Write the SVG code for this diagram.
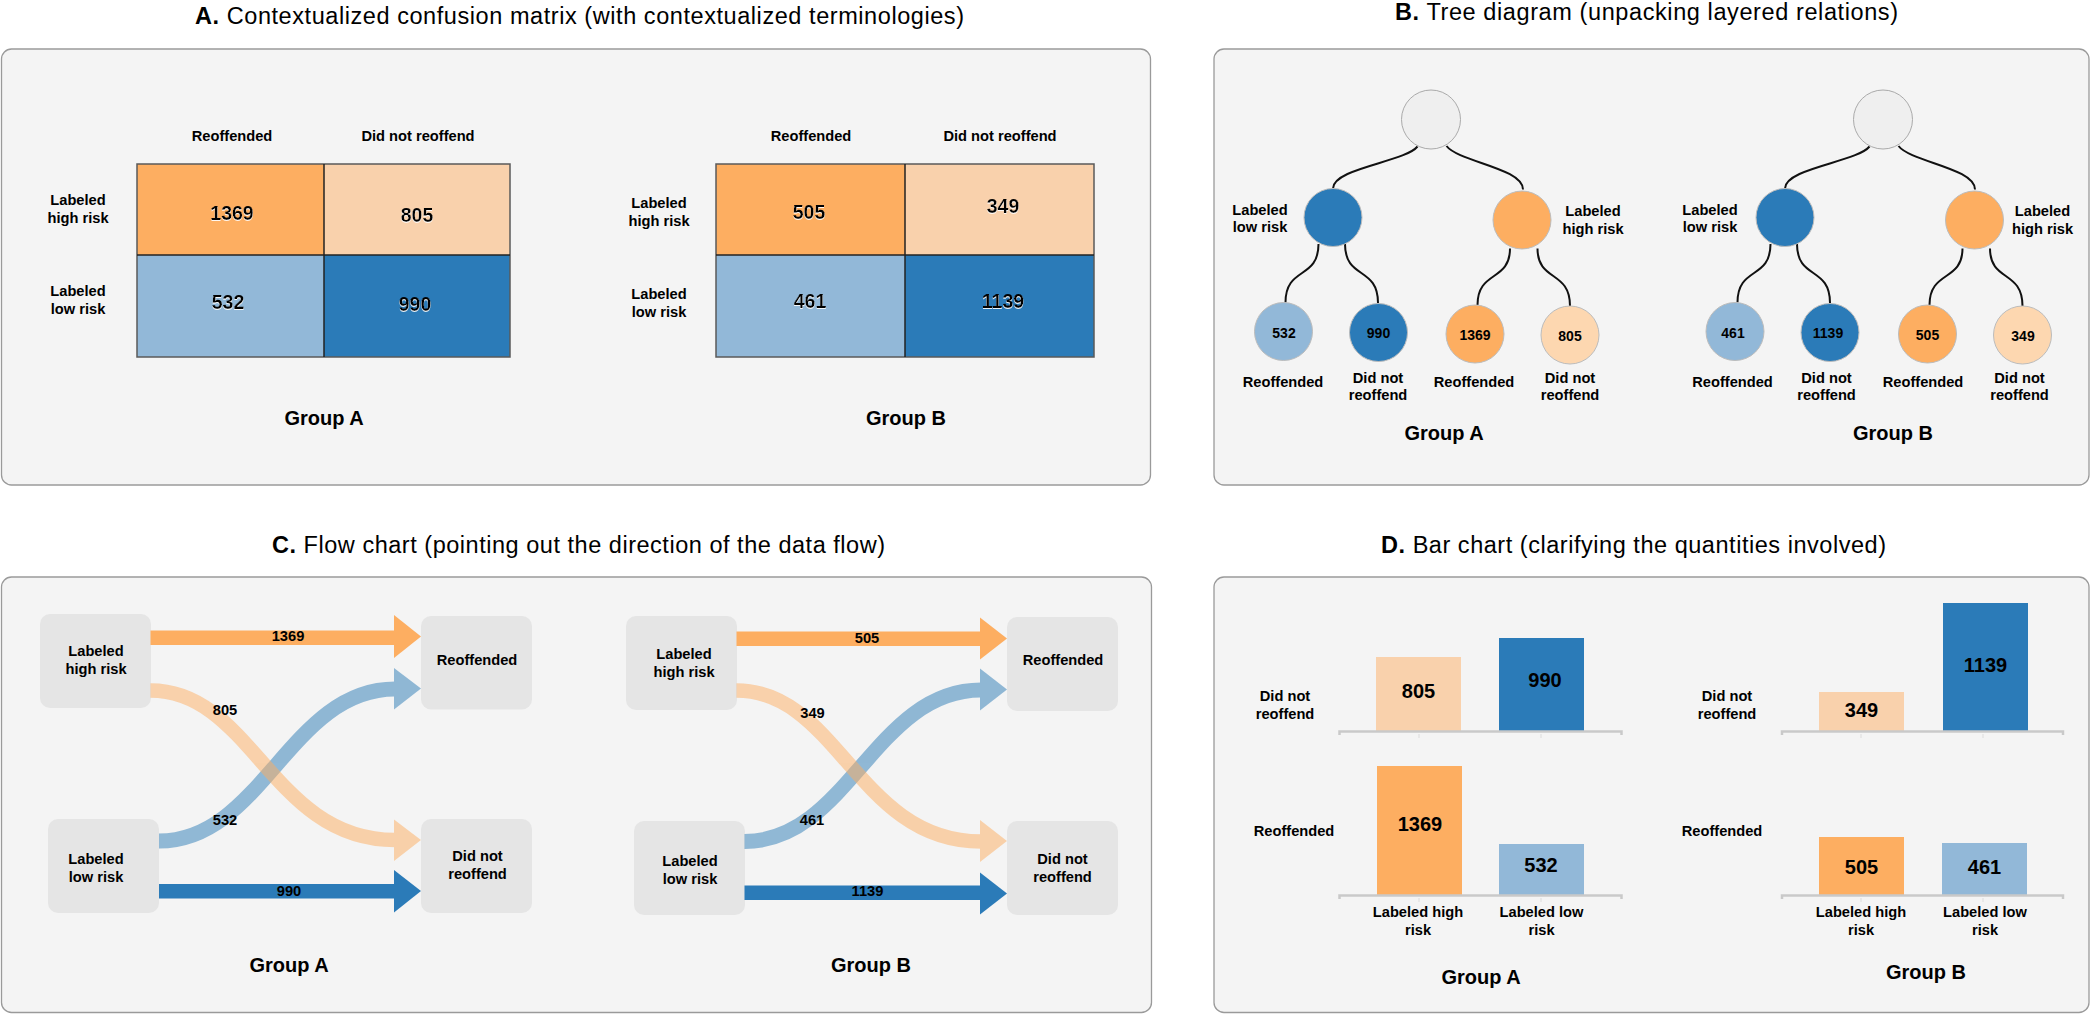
<svg xmlns="http://www.w3.org/2000/svg" width="2092" height="1014" viewBox="0 0 2092 1014">
<style>
text { font-family: "Liberation Sans", Arial, Helvetica, sans-serif; fill: #000; }
.title { font-size: 23.5px; }
.lb { font-size: 14.67px; font-weight: bold; text-anchor: middle; }
.n19 { font-size: 19.5px; font-weight: bold; text-anchor: middle; }
.n20 { font-size: 20px; font-weight: bold; text-anchor: middle; }
.n14 { font-size: 14px; font-weight: bold; text-anchor: middle; }
.grp { font-size: 20px; font-weight: bold; text-anchor: middle; }
.panel { fill: #f4f4f4; stroke: #9a9a9a; stroke-width: 1.3; }
.box { fill: #e5e5e5; }
.edge { fill: none; stroke: #111; stroke-width: 2; }
.axis { fill: none; stroke: #c9c9c9; stroke-width: 2.5; }
.tick { stroke: #dcdcdc; stroke-width: 1; }
.or { fill: #fdae61; }
.lor { fill: #f9d1ac; }
.bl { fill: #2b7bb8; }
.lbl { fill: #92b8d8; }
.mborder { fill: none; stroke: #5a5a5a; stroke-width: 1.5; }
.mline { stroke: #222; stroke-width: 1.5; }
.root { fill: #efefef; stroke: #aaa; stroke-width: 1; }
.nd { stroke: #bcbcbc; stroke-width: 1; }
</style>
<defs>
<filter id="glow" x="-20%" y="-20%" width="140%" height="160%">
<feDropShadow dx="0" dy="1" stdDeviation="0.7" flood-color="#ffffff" flood-opacity="0.9"/>
</filter>
</defs>

<!-- Panel frames -->
<rect class="panel" x="1.5" y="49" width="1149" height="436" rx="10"/>
<rect class="panel" x="1214" y="49" width="875" height="436" rx="10"/>
<rect class="panel" x="1.5" y="577" width="1150" height="435.5" rx="10"/>
<rect class="panel" x="1214" y="577" width="875" height="435.5" rx="10"/>

<!-- Titles -->
<text class="title" x="195" y="24" textLength="769" lengthAdjust="spacing"><tspan font-weight="bold">A.</tspan> Contextualized confusion matrix (with contextualized terminologies)</text>
<text class="title" x="1395" y="20" textLength="503" lengthAdjust="spacing"><tspan font-weight="bold">B.</tspan> Tree diagram (unpacking layered relations)</text>
<text class="title" x="272" y="553" textLength="613" lengthAdjust="spacing"><tspan font-weight="bold">C.</tspan> Flow chart (pointing out the direction of the data flow)</text>
<text class="title" x="1381" y="553" textLength="505" lengthAdjust="spacing"><tspan font-weight="bold">D.</tspan> Bar chart (clarifying the quantities involved)</text>

<!-- ===== A. Confusion matrices ===== -->
<g id="matrixA">
<text class="lb" x="232" y="141">Reoffended</text>
<text class="lb" x="418" y="141">Did not reoffend</text>
<text class="lb" x="78" y="205">Labeled</text>
<text class="lb" x="78" y="223">high risk</text>
<text class="lb" x="78" y="296">Labeled</text>
<text class="lb" x="78" y="314">low risk</text>
<g id="mA-tp"><rect class="or" x="137" y="164" width="187" height="91"/><text class="n19" x="232" y="219.5" filter="url(#glow)">1369</text></g>
<g id="mA-fp"><rect class="lor" x="324" y="164" width="186" height="91"/><text class="n19" x="417" y="222" filter="url(#glow)">805</text></g>
<g id="mA-fn"><rect class="lbl" x="137" y="255" width="187" height="102"/><text class="n19" x="228" y="308.5" filter="url(#glow)">532</text></g>
<g id="mA-tn"><rect class="bl" x="324" y="255" width="186" height="102"/><text class="n19" x="415" y="311" filter="url(#glow)">990</text></g>
<rect class="mborder" x="137" y="164" width="373" height="193"/>
<line class="mline" x1="324" y1="164" x2="324" y2="357"/>
<line class="mline" x1="137" y1="255" x2="510" y2="255"/>
<text class="grp" x="324" y="425">Group A</text>
</g>

<g id="matrixB">
<text class="lb" x="811" y="141">Reoffended</text>
<text class="lb" x="1000" y="141">Did not reoffend</text>
<text class="lb" x="659" y="208">Labeled</text>
<text class="lb" x="659" y="226">high risk</text>
<text class="lb" x="659" y="299">Labeled</text>
<text class="lb" x="659" y="317">low risk</text>
<g id="mB-tp"><rect class="or" x="716" y="164" width="189" height="91"/><text class="n19" x="809" y="218.5" filter="url(#glow)">505</text></g>
<g id="mB-fp"><rect class="lor" x="905" y="164" width="189" height="91"/><text class="n19" x="1003" y="213" filter="url(#glow)">349</text></g>
<g id="mB-fn"><rect class="lbl" x="716" y="255" width="189" height="102"/><text class="n19" x="810" y="308" filter="url(#glow)">461</text></g>
<g id="mB-tn"><rect class="bl" x="905" y="255" width="189" height="102"/><text class="n19" x="1003" y="308" filter="url(#glow)">1139</text></g>
<rect class="mborder" x="716" y="164" width="378" height="193"/>
<line class="mline" x1="905" y1="164" x2="905" y2="357"/>
<line class="mline" x1="716" y1="255" x2="1094" y2="255"/>
<text class="grp" x="906" y="425">Group B</text>
</g>

<!-- ===== B. Tree diagrams ===== -->
<g id="tree-connectors">
<path class="edge" d="M1417.5,146.5 C1405,162 1333,168 1333,188.5"/>
<path class="edge" d="M1446.5,146 C1459,162 1523,168 1523,189.5"/>
<path class="edge" d="M1318.5,244 C1318.5,280 1285.5,266 1285.5,302.5"/>
<path class="edge" d="M1345,244 C1345,280 1378,266 1378,303"/>
<path class="edge" d="M1510,248.5 C1510,282 1477.5,270 1477.5,305"/>
<path class="edge" d="M1537.5,248.5 C1537.5,282 1570,270 1570,306"/>

<path class="edge" d="M1869.5,146.5 C1857,162 1785,168 1785,188.5"/>
<path class="edge" d="M1898.5,146 C1911,162 1975,168 1975,189.5"/>
<path class="edge" d="M1770.5,244 C1770.5,280 1737.5,266 1737.5,302.5"/>
<path class="edge" d="M1797,244 C1797,280 1830,266 1830,303"/>
<path class="edge" d="M1962.5,248.5 C1962.5,282 1929.5,270 1929.5,305"/>
<path class="edge" d="M1990,248.5 C1990,282 2022.5,270 2022.5,306"/>
</g>

<g id="treeA">
<g id="tA-root"><circle class="root" cx="1431" cy="119.5" r="29.5"/></g>
<g id="tA-low"><circle class="bl nd" cx="1333" cy="217.5" r="29"/>
<text class="lb" x="1260" y="214.5">Labeled</text><text class="lb" x="1260" y="232">low risk</text></g>
<g id="tA-high"><circle class="or nd" cx="1522" cy="220" r="29"/>
<text class="lb" x="1593" y="215.5">Labeled</text><text class="lb" x="1593" y="233.5">high risk</text></g>
<g id="tA-532"><circle class="lbl nd" cx="1283.5" cy="331.5" r="29"/><text class="n14" x="1284" y="337.5">532</text>
<text class="lb" x="1283" y="386.5">Reoffended</text></g>
<g id="tA-990"><circle class="bl nd" cx="1378.5" cy="332.5" r="29"/><text class="n14" x="1378.5" y="338">990</text>
<text class="lb" x="1378" y="383">Did not</text><text class="lb" x="1378" y="399.5">reoffend</text></g>
<g id="tA-1369"><circle class="or nd" cx="1475" cy="334" r="29"/><text class="n14" x="1475" y="339.5">1369</text>
<text class="lb" x="1474" y="387">Reoffended</text></g>
<g id="tA-805"><circle class="nd" fill="#fdd7b0" cx="1570" cy="335" r="29"/><text class="n14" x="1570" y="340.5">805</text>
<text class="lb" x="1570" y="383">Did not</text><text class="lb" x="1570" y="399.5">reoffend</text></g>
<text class="grp" x="1444" y="440">Group A</text>
</g>

<g id="treeB">
<g id="tB-root"><circle class="root" cx="1883" cy="119.5" r="29.5"/></g>
<g id="tB-low"><circle class="bl nd" cx="1785" cy="217.5" r="29"/>
<text class="lb" x="1710" y="214.5">Labeled</text><text class="lb" x="1710" y="232">low risk</text></g>
<g id="tB-high"><circle class="or nd" cx="1974.5" cy="220" r="29"/>
<text class="lb" x="2042.5" y="215.5">Labeled</text><text class="lb" x="2042.5" y="233.5">high risk</text></g>
<g id="tB-461"><circle class="lbl nd" cx="1735" cy="331.5" r="29"/><text class="n14" x="1733" y="337.5">461</text>
<text class="lb" x="1732.5" y="386.5">Reoffended</text></g>
<g id="tB-1139"><circle class="bl nd" cx="1830" cy="332.5" r="29"/><text class="n14" x="1828" y="338">1139</text>
<text class="lb" x="1826.5" y="383">Did not</text><text class="lb" x="1826.5" y="399.5">reoffend</text></g>
<g id="tB-505"><circle class="or nd" cx="1927.5" cy="334" r="29"/><text class="n14" x="1927.5" y="339.5">505</text>
<text class="lb" x="1923" y="387">Reoffended</text></g>
<g id="tB-349"><circle class="nd" fill="#fdd7b0" cx="2022.5" cy="335" r="29"/><text class="n14" x="2023" y="340.5">349</text>
<text class="lb" x="2019.5" y="383">Did not</text><text class="lb" x="2019.5" y="399.5">reoffend</text></g>
<text class="grp" x="1893" y="440">Group B</text>
</g>

<!-- ===== C. Flow charts ===== -->
<g id="flowA">
<g id="fA-high"><rect class="box" x="40" y="614" width="111" height="94" rx="10"/>
<text class="lb" x="96" y="656">Labeled</text><text class="lb" x="96" y="674">high risk</text></g>
<g id="fA-reo"><rect class="box" x="421" y="616" width="111" height="93.5" rx="10"/>
<text class="lb" x="477" y="665">Reoffended</text></g>
<g id="fA-low"><rect class="box" x="48" y="819" width="111" height="94" rx="10"/>
<text class="lb" x="96" y="864">Labeled</text><text class="lb" x="96" y="882">low risk</text></g>
<g id="fA-not"><rect class="box" x="421" y="819" width="111" height="94" rx="10"/>
<text class="lb" x="477.5" y="861">Did not</text><text class="lb" x="477.5" y="879">reoffend</text></g>
</g>

<g id="flowB">
<g id="fB-high"><rect class="box" x="626" y="616" width="111" height="94" rx="10"/>
<text class="lb" x="684" y="659">Labeled</text><text class="lb" x="684" y="677">high risk</text></g>
<g id="fB-reo"><rect class="box" x="1007" y="617" width="111" height="94" rx="10"/>
<text class="lb" x="1063" y="665">Reoffended</text></g>
<g id="fB-low"><rect class="box" x="634" y="821" width="111" height="94" rx="10"/>
<text class="lb" x="690" y="866">Labeled</text><text class="lb" x="690" y="884">low risk</text></g>
<g id="fB-not"><rect class="box" x="1007" y="821" width="111" height="94" rx="10"/>
<text class="lb" x="1062.5" y="864">Did not</text><text class="lb" x="1062.5" y="882">reoffend</text></g>
</g>

<g id="flow-connectors">
<!-- Group A -->
<g opacity="0.5">
<path d="M159,841 C262,841 290,689 395,689" fill="none" stroke="#2c7bb6" stroke-width="15"/>
<polygon points="394,668 421,688.5 394,709.5" fill="#2c7bb6"/>
</g>
<g opacity="0.5">
<path d="M150.5,690.5 C252,690.5 272,840 395,840" fill="none" stroke="#fdae61" stroke-width="14.5"/>
<polygon points="394,819.5 421,840 394,861" fill="#fdae61"/>
</g>
<rect class="or" x="150.5" y="630.5" width="244.5" height="14.5"/>
<polygon class="or" points="394,615 421,636.5 394,658"/>
<rect class="bl" x="159" y="884" width="236" height="14.5"/>
<polygon class="bl" points="394,870 421,891 394,912.5"/>
<text class="lb" x="288" y="641">1369</text>
<text class="lb" x="289" y="895.5">990</text>
<text class="lb" x="225" y="714.5">805</text>
<text class="lb" x="225" y="824.5">532</text>
<!-- Group B -->
<g opacity="0.5">
<path d="M744.5,841.5 C848,841.5 875,690 981,690" fill="none" stroke="#2c7bb6" stroke-width="15"/>
<polygon points="980,668.5 1007,689.5 980,710.5" fill="#2c7bb6"/>
</g>
<g opacity="0.5">
<path d="M736.5,690.5 C838,690.5 858,841.5 981,841.5" fill="none" stroke="#fdae61" stroke-width="14.5"/>
<polygon points="980,820 1007,841 980,862" fill="#fdae61"/>
</g>
<rect class="or" x="736.5" y="631.5" width="244.5" height="14.5"/>
<polygon class="or" points="980,617.5 1007,638.5 980,659.5"/>
<rect class="bl" x="744.5" y="885.5" width="236.5" height="14.5"/>
<polygon class="bl" points="980,872.5 1007,893.5 980,914.5"/>
<text class="lb" x="867" y="643">505</text>
<text class="lb" x="867.5" y="896">1139</text>
<text class="lb" x="812.5" y="718">349</text>
<text class="lb" x="812" y="824.5">461</text>
</g>
<text class="grp" x="289" y="972">Group A</text>
<text class="grp" x="871" y="972">Group B</text>

<!-- ===== D. Bar charts ===== -->
<g id="barsA">
<text class="lb" x="1285" y="701">Did not</text>
<text class="lb" x="1285" y="719">reoffend</text>
<text class="lb" x="1294" y="836">Reoffended</text>
<g id="bA-805"><rect class="lor" x="1376" y="657" width="85" height="74"/><text class="n20" x="1418.5" y="698">805</text></g>
<g id="bA-990"><rect class="bl" x="1499" y="638" width="85" height="93"/><text class="n20" x="1545" y="687">990</text></g>
<g id="bA-1369"><rect class="or" x="1377" y="766" width="85" height="129"/><text class="n20" x="1420" y="831">1369</text></g>
<g id="bA-532"><rect class="lbl" x="1499" y="844" width="85" height="51"/><text class="n20" x="1541" y="871.5">532</text></g>
<path class="axis" d="M1339.5,735 V731.5 H1621.5 V735"/>
<path class="axis" d="M1339.5,899 V895.5 H1621.5 V899"/>
<line class="tick" x1="1419" y1="734" x2="1419" y2="738"/>
<line class="tick" x1="1541" y1="734" x2="1541" y2="738"/>
<line class="tick" x1="1419" y1="898" x2="1419" y2="902"/>
<line class="tick" x1="1541" y1="898" x2="1541" y2="902"/>
<text class="lb" x="1418" y="917">Labeled high</text>
<text class="lb" x="1418" y="935">risk</text>
<text class="lb" x="1541.5" y="917">Labeled low</text>
<text class="lb" x="1541.5" y="935">risk</text>
<text class="grp" x="1481" y="984">Group A</text>
</g>

<g id="barsB">
<text class="lb" x="1727" y="701">Did not</text>
<text class="lb" x="1727" y="719">reoffend</text>
<text class="lb" x="1722" y="836">Reoffended</text>
<g id="bB-349"><rect class="lor" x="1819" y="692" width="85" height="39"/><text class="n20" x="1861.5" y="717">349</text></g>
<g id="bB-1139"><rect class="bl" x="1943" y="603" width="85" height="128"/><text class="n20" x="1985.5" y="672">1139</text></g>
<g id="bB-505"><rect class="or" x="1819" y="837" width="85" height="58"/><text class="n20" x="1861.5" y="874">505</text></g>
<g id="bB-461"><rect class="lbl" x="1942" y="843" width="85" height="52"/><text class="n20" x="1984.5" y="874">461</text></g>
<path class="axis" d="M1782,735 V731.5 H2063 V735"/>
<path class="axis" d="M1782,899 V895.5 H2063 V899"/>
<line class="tick" x1="1861" y1="734" x2="1861" y2="738"/>
<line class="tick" x1="1983" y1="734" x2="1983" y2="738"/>
<line class="tick" x1="1861" y1="898" x2="1861" y2="902"/>
<line class="tick" x1="1983" y1="898" x2="1983" y2="902"/>
<text class="lb" x="1861" y="917">Labeled high</text>
<text class="lb" x="1861" y="935">risk</text>
<text class="lb" x="1985" y="917">Labeled low</text>
<text class="lb" x="1985" y="935">risk</text>
<text class="grp" x="1926" y="979">Group B</text>
</g>
</svg>
